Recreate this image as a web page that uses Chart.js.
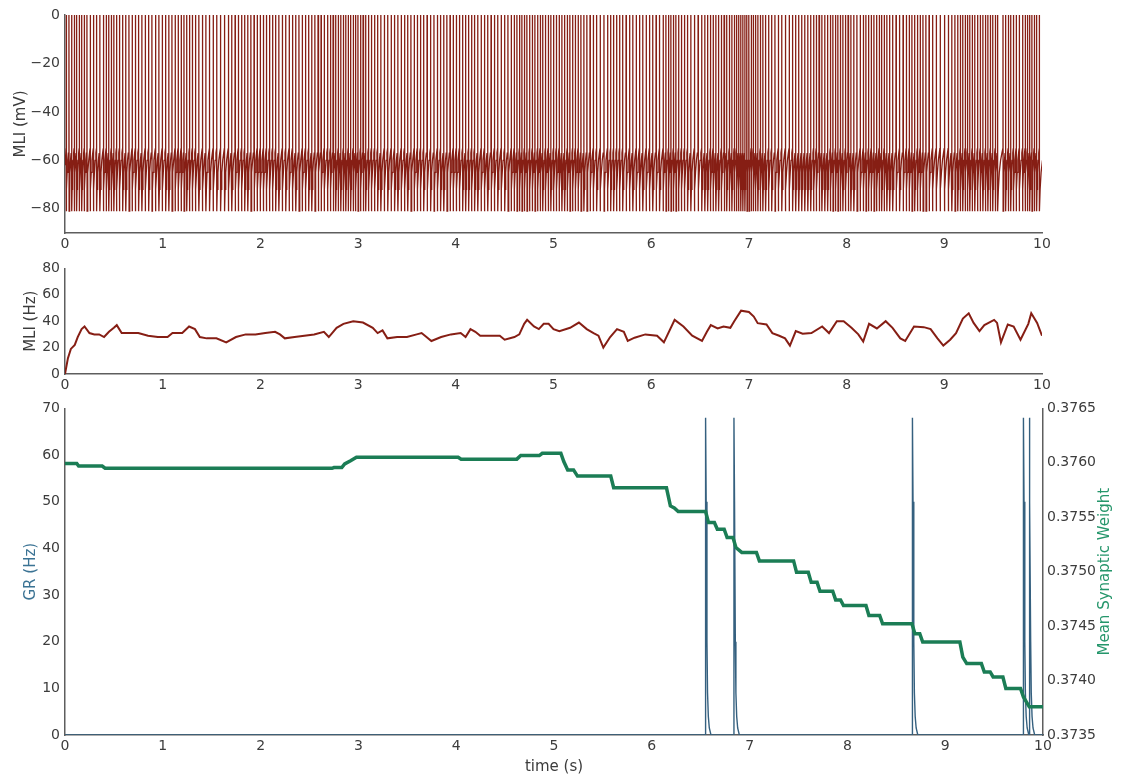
<!DOCTYPE html>
<html>
<head>
<meta charset="utf-8">
<script src="https://cdn.jsdelivr.net/npm/chart.js@4.4.1/dist/chart.umd.min.js"></script>
<style>
    html, body { margin: 0; padding: 0; background: #fff; }
    canvas { position: absolute; left: 0; }
</style>
</head>
<body>
<canvas id="chartVm" width="1125" height="255" style="top:0"></canvas>
<canvas id="chartRate" width="1125" height="140" style="top:255px"></canvas>
<canvas id="chartWeight" width="1125" height="384" style="top:395px"></canvas>
<script>
// tick labels
const timeTicks = [0, 1, 2, 3, 4, 5, 6, 7, 8, 9, 10];
const vmTicks = [-80, -60, -40, -20, 0];
const rateTicks = [0, 20, 40, 60, 80];
const grTicks = [0, 10, 20, 30, 40, 50, 60, 70];
const weightTicks = [0.3735, 0.3740, 0.3745, 0.3750, 0.3755, 0.3760, 0.3765];

// MLI spike times (s)
const spikeTimes = [
    0.012, 0.040, 0.068, 0.093, 0.118, 0.145, 0.170, 0.196, 0.224, 0.257, 0.290, 0.322, 0.356, 0.392, 0.421, 0.447, 0.473, 0.499, 0.526, 0.556, 0.589, 0.621, 0.654, 0.686, 0.719, 0.752, 0.786, 0.820, 0.855, 0.889, 0.925, 0.960, 0.994,
    1.029, 1.062, 1.094, 1.126, 1.157, 1.188, 1.217, 1.245, 1.273, 1.302, 1.334, 1.369, 1.405, 1.441, 1.478, 1.515, 1.552, 1.591, 1.632, 1.671, 1.706, 1.740, 1.773, 1.806, 1.838, 1.870, 1.902, 1.934, 1.966, 1.997,
    2.029, 2.060, 2.092, 2.123, 2.155, 2.188, 2.223, 2.258, 2.293, 2.327, 2.361, 2.394, 2.427, 2.460, 2.493, 2.525, 2.557, 2.589, 2.620, 2.652, 2.686, 2.716, 2.743, 2.770, 2.796, 2.822, 2.848, 2.873, 2.898, 2.923, 2.948, 2.973, 2.998,
    3.024, 3.050, 3.077, 3.105, 3.135, 3.167, 3.199, 3.232, 3.267, 3.302, 3.337, 3.372, 3.406, 3.440, 3.474, 3.507, 3.540, 3.573, 3.605, 3.637, 3.670, 3.705, 3.741, 3.776, 3.810, 3.843, 3.876, 3.908, 3.940, 3.972,
    4.004, 4.036, 4.069, 4.100, 4.130, 4.160, 4.191, 4.224, 4.258, 4.292, 4.326, 4.360, 4.394, 4.428, 4.463, 4.499, 4.533, 4.566, 4.597, 4.625, 4.651, 4.676, 4.701, 4.727, 4.754, 4.782, 4.809, 4.836, 4.862, 4.889, 4.916, 4.944, 4.972, 4.999,
    5.028, 5.057, 5.085, 5.113, 5.140, 5.167, 5.194, 5.222, 5.251, 5.280, 5.310, 5.341, 5.373, 5.406, 5.440, 5.476, 5.516, 5.552, 5.584, 5.614, 5.644, 5.675, 5.707, 5.742, 5.777, 5.811, 5.845, 5.879, 5.913, 5.947, 5.981,
    6.015, 6.049, 6.084, 6.121, 6.150, 6.176, 6.201, 6.226, 6.252, 6.279, 6.308, 6.339, 6.371, 6.405, 6.441, 6.479, 6.516, 6.548, 6.577, 6.605, 6.633, 6.661, 6.689, 6.717, 6.745, 6.772, 6.799, 6.825, 6.849, 6.872, 6.894, 6.916, 6.937, 6.958, 6.979,
    7.000, 7.022, 7.044, 7.067, 7.091, 7.116, 7.142, 7.170, 7.200, 7.232, 7.266, 7.300, 7.335, 7.372, 7.411, 7.446, 7.478, 7.509, 7.540, 7.571, 7.602, 7.632, 7.661, 7.689, 7.717, 7.746, 7.776, 7.805, 7.833, 7.859, 7.885, 7.910, 7.935, 7.961, 7.987,
    8.014, 8.043, 8.073, 8.105, 8.138, 8.170, 8.197, 8.223, 8.251, 8.279, 8.306, 8.332, 8.358, 8.384, 8.411, 8.440, 8.471, 8.505, 8.541, 8.577, 8.610, 8.640, 8.668, 8.696, 8.724, 8.752, 8.781, 8.811, 8.843, 8.878, 8.916, 8.956,
    9.000, 9.040, 9.076, 9.108, 9.137, 9.163, 9.188, 9.212, 9.236, 9.260, 9.285, 9.311, 9.339, 9.367, 9.394, 9.420, 9.445, 9.470, 9.495, 9.520, 9.545, 9.600, 9.627, 9.653, 9.679, 9.706, 9.735, 9.766, 9.800, 9.826, 9.850, 9.873, 9.896, 9.919, 9.944, 9.972
];
// membrane potential levels (mV) and the shape of the recovery between spikes
const vmStart = -62;
const vmThreshold = -55;
const vmPeak = 0;
const vmReset = -81;
const riseFrac = [0.12, 0.3, 0.55, 0.8];
const riseV = [-72, -65, -60, -57];

// MLI firing rate (Hz)
const rateTimes = [
    0, 0.03, 0.06, 0.10, 0.13, 0.17, 0.20, 0.25, 0.30, 0.35,
    0.40, 0.45, 0.50, 0.53, 0.58, 0.65, 0.75, 0.85, 0.95, 1.05,
    1.10, 1.20, 1.27, 1.33, 1.38, 1.45, 1.55, 1.65, 1.75, 1.85,
    1.95, 2.05, 2.15, 2.20, 2.25, 2.35, 2.45, 2.55, 2.65, 2.70,
    2.78, 2.85, 2.95, 3.05, 3.15, 3.20, 3.25, 3.30, 3.40, 3.50,
    3.60, 3.65, 3.70, 3.75, 3.85, 3.95, 4.05, 4.10, 4.15, 4.20,
    4.25, 4.35, 4.45, 4.50, 4.60, 4.65, 4.70, 4.73, 4.80, 4.85,
    4.90, 4.95, 5.00, 5.06, 5.17, 5.26, 5.34, 5.41, 5.46, 5.51,
    5.58, 5.65, 5.72, 5.76, 5.83, 5.94, 6.06, 6.13, 6.24, 6.33,
    6.42, 6.52, 6.57, 6.61, 6.68, 6.74, 6.81, 6.85, 6.92, 7.00,
    7.05, 7.09, 7.18, 7.24, 7.31, 7.37, 7.42, 7.48, 7.55, 7.64,
    7.75, 7.82, 7.90, 7.97, 8.05, 8.12, 8.17, 8.23, 8.31, 8.40,
    8.47, 8.55, 8.60, 8.69, 8.79, 8.86, 8.93, 8.99, 9.06, 9.12,
    9.19, 9.25, 9.30, 9.36, 9.41, 9.51, 9.54, 9.58, 9.65, 9.71,
    9.78, 9.86, 9.89, 9.95, 10.0
];
const rateValues = [
    0, 12, 19, 22, 28, 34, 36, 31, 30, 30,
    28, 32, 35, 37, 31, 31, 31, 29, 28, 28,
    31, 31, 36, 34, 28, 27, 27, 24, 28, 30,
    30, 31, 32, 30, 27, 28, 29, 30, 32, 28,
    35, 38, 40, 39, 35, 31, 33, 27, 28, 28,
    30, 31, 28, 25, 28, 30, 31, 28, 34, 32,
    29, 29, 29, 26, 28, 30, 38, 41, 36, 34,
    38, 38, 34, 32.5, 35, 39, 34, 31, 29, 20,
    28, 34, 32, 25, 27.5, 30, 29, 24, 41, 36,
    29, 25, 32, 37, 34.5, 36, 35, 40, 48, 47,
    43.5, 38.5, 37.5, 31, 29, 27, 21.5, 32.5, 30.5, 31,
    36, 31, 40, 40, 35, 30, 24.6, 38, 34.5, 40,
    35, 27, 25, 36, 35.5, 34, 27, 21.5, 26, 31,
    42, 46, 38.7, 32.5, 37, 41, 38.7, 24, 37.5, 36,
    26, 38, 46, 38.7, 29
];

// GR bursts: times (s) and the shape of one transient
const grSpikeTimes = [6.55, 6.84, 8.665, 9.80, 9.86];
const grKernelDt = [-0.002, 0, 0.006, 0.014, 0.02, 0.028, 0.038, 0.055];
const grKernelV = [0, 68, 50, 20, 9, 4, 1.5, 0];

// mean synaptic weight
const weightTimes = [
    0, 0.12, 0.14, 0.38, 0.41, 2.73, 2.75, 2.83, 2.86, 2.92, 2.98,
    4.02, 4.05, 4.62, 4.66, 4.85, 4.88, 5.07, 5.10, 5.14, 5.20, 5.24, 5.58, 5.61,
    6.15, 6.19, 6.23, 6.27, 6.55, 6.58, 6.64, 6.67, 6.74, 6.77, 6.83, 6.86, 6.92,
    7.07, 7.10, 7.45, 7.48, 7.60, 7.63, 7.69, 7.72, 7.85, 7.88, 7.93, 7.96,
    8.19, 8.22, 8.33, 8.36, 8.66, 8.69, 8.74, 8.77,
    9.15, 9.18, 9.22, 9.37, 9.40, 9.46, 9.49, 9.59, 9.62, 9.77, 9.80, 9.86, 10
];
const weightValues = [
    0.375995, 0.375995, 0.37597, 0.37597, 0.37595, 0.37595, 0.375957, 0.375957, 0.37599, 0.37602, 0.376052,
    0.376052, 0.376034, 0.376034, 0.376067, 0.376067, 0.376088, 0.376088, 0.376012, 0.375935, 0.375935, 0.375878, 0.375878, 0.375771,
    0.375771, 0.375604, 0.375585, 0.375552, 0.375552, 0.375451, 0.375451, 0.37539, 0.37539, 0.375314, 0.375314, 0.375222, 0.375177,
    0.375177, 0.375099, 0.375099, 0.374994, 0.374994, 0.374902, 0.374902, 0.37482, 0.37482, 0.374741, 0.374741, 0.374689,
    0.374689, 0.374598, 0.374598, 0.374522, 0.374522, 0.37443, 0.37443, 0.374354,
    0.374354, 0.374216, 0.374156, 0.374156, 0.374079, 0.374079, 0.374033, 0.374033, 0.373927, 0.373927, 0.37385, 0.373759, 0.373759
];

const mliColor = '#861e14';
const grColor = '#35607f';
const grTitleColor = '#3b7394';
const weightColor = '#1b7d55';
const weightTitleColor = '#25966b';
const axisColor = '#5e5e5e';
const textColor = '#3c3c3c';

Chart.defaults.font.family = '"DejaVu Sans", sans-serif';
Chart.defaults.animation = false;
Chart.defaults.plugins.legend.display = false;
Chart.defaults.plugins.tooltip.enabled = false;
Chart.defaults.elements.point.radius = 0;

function buildVm() {
    const pts = [{ x: 0, y: vmStart }];
    spikeTimes.forEach((t0, i) => {
        const t1 = i + 1 < spikeTimes.length ? spikeTimes[i + 1] : 10.03;
        pts.push({ x: t0, y: vmThreshold }, { x: t0 + 0.0008, y: vmPeak }, { x: t0 + 0.002, y: vmReset });
        const isi = t1 - t0 - 0.002;
        riseFrac.forEach((f, k) => pts.push({ x: t0 + 0.002 + f * isi, y: riseV[k] }));
    });
    return pts;
}

function buildGr() {
    const pts = [{ x: 0, y: 0 }];
    grSpikeTimes.forEach(ts => {
        grKernelDt.forEach((dt, k) => pts.push({ x: ts + dt, y: grKernelV[k] }));
    });
    pts.push({ x: 10, y: 0 });
    return pts;
}

const zip = (xs, ys) => xs.map((x, i) => ({ x: x, y: ys[i] }));
const setTicks = values => scale => { scale.ticks = values.map(v => ({ value: v })); };
const minus = v => (v < 0 ? '\u2212' + Math.abs(v) : String(v));

function timeAxis(height, title) {
    return {
        type: 'linear', min: 0, max: 10,
        afterBuildTicks: setTicks(timeTicks),
        afterFit: scale => { scale.height = height; },
        grid: { drawOnChartArea: false, drawTicks: false },
        border: { color: axisColor, width: 1.5 },
        ticks: { color: textColor, font: { size: 14 }, padding: 3, maxRotation: 0, autoSkip: false },
        title: title
            ? { display: true, text: title, color: textColor, font: { size: 15 }, padding: { top: 0, bottom: 3 } }
            : { display: false }
    };
}

function valueAxis(opts) {
    return {
        type: 'linear', position: opts.position || 'left', min: opts.min, max: opts.max,
        afterBuildTicks: setTicks(opts.ticks),
        afterFit: scale => { scale.width = opts.width; },
        grid: { drawOnChartArea: false, drawTicks: false },
        border: { color: axisColor, width: 1.5 },
        ticks: { color: textColor, font: { size: 14 }, padding: opts.tickPad || 5, autoSkip: false, callback: opts.format || minus },
        title: opts.title
            ? { display: true, text: opts.title, color: opts.titleColor || textColor, font: { size: 15 }, padding: { top: opts.titlePad, bottom: 0 } }
            : { display: false }
    };
}

new Chart(document.getElementById('chartVm'), {
    type: 'line',
    data: {
        datasets: [{
            data: buildVm(),
            borderColor: mliColor,
            borderWidth: 1.3,
        }]
    },
    options: {
        responsive: false,
        layout: { padding: { top: 15, right: 83, left: 0, bottom: 0 } },
        scales: {
            x: timeAxis(22),
            y: valueAxis({ min: -90, max: 0, ticks: vmTicks, width: 65, title: 'MLI (mV)', titlePad: 12 })
        }
    }
});

new Chart(document.getElementById('chartRate'), {
    type: 'line',
    data: {
        datasets: [{
            data: zip(rateTimes, rateValues),
            borderColor: mliColor,
            borderWidth: 2,
        }]
    },
    options: {
        responsive: false,
        layout: { padding: { top: 10, right: 83, left: 0, bottom: 0 } },
        scales: {
            x: timeAxis(21),
            y: valueAxis({ min: 0, max: 80, ticks: rateTicks, width: 65, title: 'MLI (Hz)', titlePad: 22 })
        }
    }
});

const rightTitle = {
    id: 'rightTitle',
    afterDraw(chart) {
        const { ctx, chartArea } = chart;
        const axis = chart.scales.y1;
        ctx.save();
        ctx.translate(axis.right - 20, (chartArea.top + chartArea.bottom) / 2);
        ctx.rotate(-Math.PI / 2);
        ctx.font = '15px "DejaVu Sans"';
        ctx.fillStyle = weightTitleColor;
        ctx.textAlign = 'center';
        ctx.textBaseline = 'middle';
        ctx.fillText('Mean Synaptic Weight', 0, 0);
        ctx.restore();
    }
};

new Chart(document.getElementById('chartWeight'), {
    type: 'line',
    data: {
        datasets: [{
            data: zip(weightTimes, weightValues),
            borderColor: weightColor,
            borderWidth: 3.5,
            yAxisID: 'y1',
        }, {
            data: buildGr(),
            borderColor: grColor,
            borderWidth: 1.4,
            yAxisID: 'y',
        }]
    },
    options: {
        responsive: false,
        layout: { padding: { top: 12, right: 0, left: 0, bottom: 0 } },
        scales: {
            x: timeAxis(44, 'time (s)'),
            y: valueAxis({ min: 0, max: 70, ticks: grTicks, width: 65, title: 'GR (Hz)', titleColor: grTitleColor, titlePad: 22 }),
            y1: valueAxis({ position: 'right', min: 0.3735, max: 0.3765, ticks: weightTicks, width: 82, tickPad: 4, format: v => v.toFixed(4) })
        }
    },
    plugins: [rightTitle]
});
</script>
</body>
</html>
